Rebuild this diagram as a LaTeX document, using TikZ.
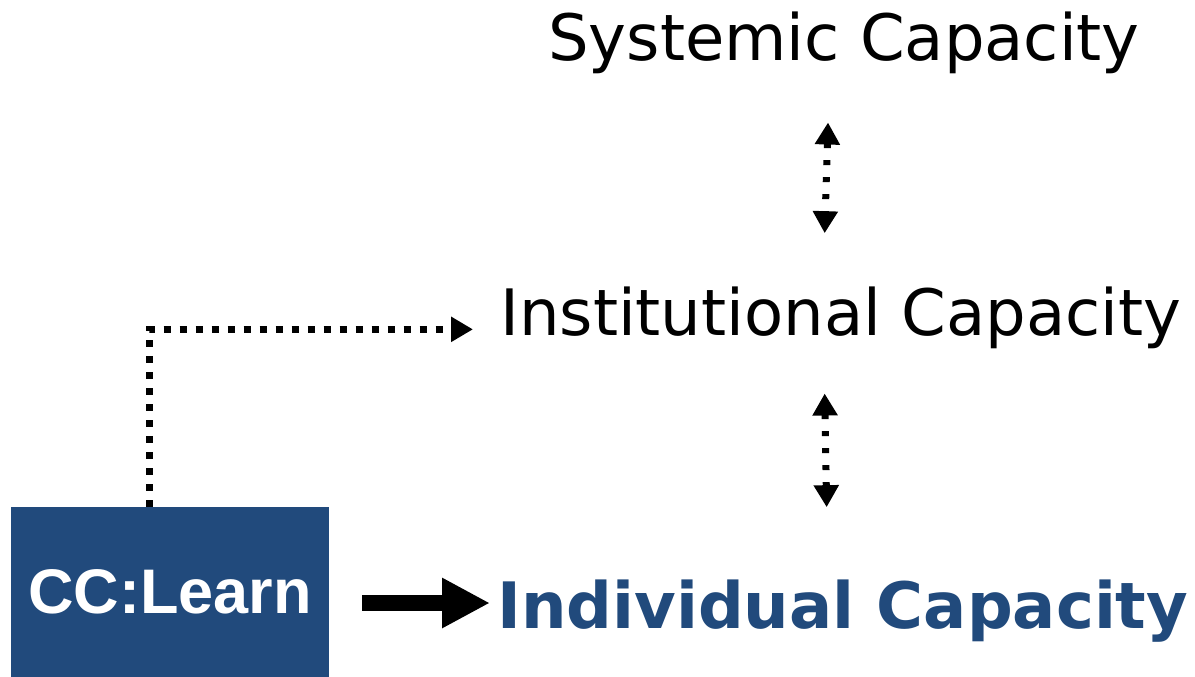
\documentclass[tikz,border=0pt]{standalone}
\usepackage{fontspec}
\setmainfont{DejaVu Sans}
\newfontfamily\boxfont{Liberation Sans}
\usetikzlibrary{arrows.meta}
\definecolor{ccblue}{RGB}{33,74,124}
\tikzset{
  level/.style={inner sep=0pt, anchor=base west, font=\fontsize{64}{70}\selectfont},
  dotline/.style={line width=7pt, dash pattern=on 7pt off 9pt},
  dottip/.style={-{Triangle[length=22pt,width=24pt]}},
}
\begin{document}
\begin{tikzpicture}[x=1pt,y=-1pt]
  \useasboundingbox (0,0) rectangle (1195,677);
  \draw
    (548,61) node[level] (sys){Systemic Capacity}
    (500,335) node[level] (inst){Institutional Capacity}
    (497,628) node[level, font=\fontsize{64}{70}\selectfont\bfseries, text=ccblue] (ind){Individual Capacity};
  \node[fill=ccblue, minimum width=318pt, minimum height=170pt, text=white,
    font=\boxfont\fontsize{63}{70}\selectfont\bfseries] (cc) at (170,592) {\raisebox{-5pt}{CC:Learn}};
  \begin{scope}[dotline]
    \draw[{Triangle[length=22pt,width=24pt]}-{Triangle[length=22pt,width=24pt]}, dash pattern=on 5pt off 12pt]
      ([xshift=-16pt,yshift=-48pt]sys.south) to ([xshift=-16pt,yshift=53pt]inst.north);
    \draw[{Triangle[length=22pt,width=24pt]}-{Triangle[length=22pt,width=24pt]}, dash pattern=on 5pt off 12pt]
      ([xshift=-16pt,yshift=-45pt]inst.south) to ([xshift=-16pt,yshift=72pt]ind.north);
    \draw[dottip] ([xshift=-21pt]cc.north) |- ([xshift=-27pt,yshift=-12pt]inst.west);
  \end{scope}
  \draw[line width=16pt, -{Triangle[length=48pt,width=47pt]}] ([xshift=33pt,yshift=-11pt]cc.east) to ([xshift=-7pt,yshift=25pt]ind.base west);
\end{tikzpicture}
\end{document}
